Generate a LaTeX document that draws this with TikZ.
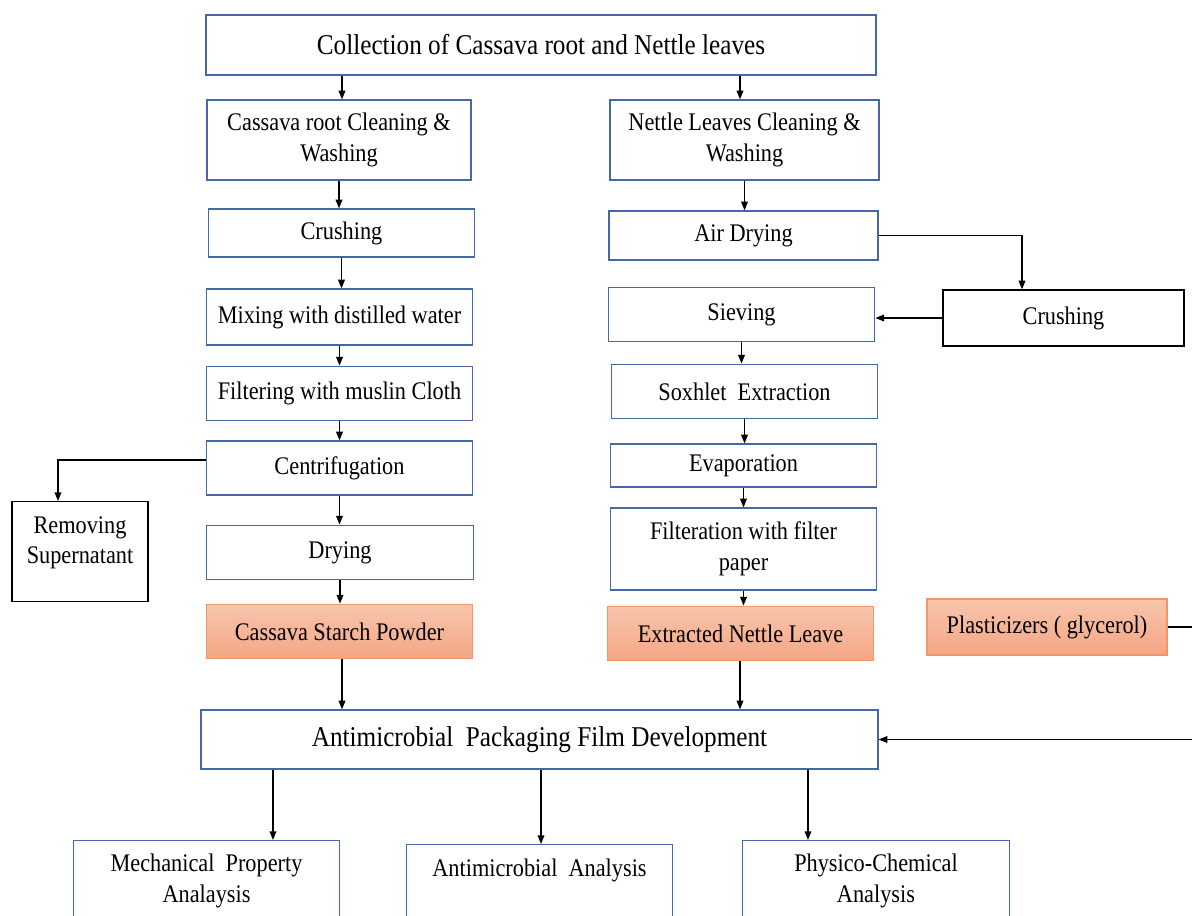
\documentclass[tikz,border=0pt]{standalone}
\usepackage{fontspec}
\setmainfont{Liberation Serif}[FakeStretch=0.88]
\usetikzlibrary{positioning,arrows.meta}
\definecolor{boxblue}{RGB}{68,104,168}
\definecolor{peachtop}{RGB}{248,197,172}
\definecolor{peachbot}{RGB}{244,166,132}
\definecolor{peachline}{RGB}{241,150,100}

\tikzset{
  stage/.style={draw=boxblue, line width=0.9pt, minimum width=200pt, minimum height=41pt,
    align=center, inner sep=3pt, font=\fontsize{19}{23}\selectfont},
  side/.style={stage, draw=black},
  product/.style={stage, draw=peachline, top color=peachtop, bottom color=peachbot},
  headline/.style={stage, font=\fontsize{21.5}{26}\selectfont},
  analysis/.style={stage, anchor=north, text depth=60pt, inner ysep=10pt},
  arr/.style={-{Triangle[length=6.5pt,width=5pt]}, line width=1pt},
}

\begin{document}
\begin{tikzpicture}[x=0.75pt, y=-0.75pt]
   \clip (0,0) rectangle (1192,915);
   % top
   \node[headline, minimum width=502.5pt, minimum height=45pt] (coll) at (541,45) {Collection of Cassava root and Nettle leaves};
   % cassava side
   \node[stage, minimum width=198pt, minimum height=60pt] (cclean) at (339,140) {Cassava root Cleaning \&\\Washing};
   \node[stage, minimum height=36pt] (ccrush) at (341.5,233) {Crushing};
   \node[stage, minimum height=42pt] (cmix) at (339.5,317) {Mixing with distilled water};
   \node[stage] (cfilt) at (339.5,393.5) {Filtering with muslin Cloth};
   \node[stage, minimum height=40.5pt] (centr) at (339.5,468) {Centrifugation};
   \node[side, minimum width=102pt, minimum height=75pt, anchor=north, text depth=17pt, inner ysep=11pt] (remov) at (80,501) {Removing\\Supernatant};
   \node[stage] (cdry) at (340,552.5) {Drying};
   \node[product] (starch) at (339.5,631.5) {Cassava Starch Powder};
   % nettle side
   \node[stage, minimum width=201.75pt, minimum height=60pt] (nclean) at (744.5,140) {Nettle Leaves Cleaning \&\\Washing};
   \node[stage, minimum width=201.75pt, minimum height=36.75pt] (nair) at (743.5,235.5) {Air Drying};
   \node[side, minimum width=180.75pt, minimum height=42pt] (ncrush) at (1063.5,318) {Crushing};
   \node[stage] (nsieve) at (741.5,314.5) {Sieving};
   \node[stage] (nsox) at (744.5,391.5) {Soxhlet\ \ Extraction};
   \node[stage, minimum height=32.25pt] (nevap) at (743.5,465.5) {Evaporation};
   \node[stage, minimum height=61.5pt] (nfilt) at (743.5,549) {Filteration with filter\\paper};
   \node[product] (nettle) at (740.5,633.5) {Extracted Nettle Leave};
   \node[product, minimum width=180pt, minimum height=42pt] (plast) at (1047,627) {Plasticizers ( glycerol)};
   % film and analyses
   \node[headline, minimum width=507.75pt, minimum height=44.25pt] (film) at (539.5,739.5) {Antimicrobial\ \ Packaging Film Development};
   \node[analysis] (mech) at (206.5,840) {Mechanical\ \ Property\\Analaysis};
   \node[analysis, inner ysep=11pt] (amic) at (539.5,844) {Antimicrobial\ \ Analysis};
   \node[analysis] (phys) at (876,840) {Physico-Chemical\\Analysis};

   \coordinate (ka) at (342,0);
   \coordinate (kb) at (740,0);
   \coordinate (kc) at (1022,0);
   \coordinate (kd) at (58,0);
   \coordinate (ke) at (1215,627);
   \coordinate (xm) at (273,0);
   \coordinate (xa) at (541,0);
   \coordinate (xp) at (808,0);

   \draw[arr] (coll.south -| ka) -- (cclean.north -| ka);
   \draw[arr] (coll.south -| kb) -- (nclean.north -| kb);
   \foreach \a/\b in {cclean/ccrush, ccrush/cmix, cmix/cfilt, cfilt/centr, centr/cdry, cdry/starch,
                      nclean/nair, nsieve/nsox, nsox/nevap, nevap/nfilt, nfilt/nettle}
     \draw[arr] (\a.south) -- (\a.south |- \b.north);
   \draw[arr] (starch.south -| ka) -- (film.north -| ka);
   \draw[arr] (nettle.south -| kb) -- (film.north -| kb);
   \draw[arr] (nair.east) -| (ncrush.north -| kc);
   \draw[arr] (ncrush.west) -- (nsieve.east |- ncrush.west);
   \draw[arr] (centr.west |- 0,460) -| (remov.north -| kd);
   \draw[arr] (plast.east) -- (ke) |- (film.east);
   \draw[arr] (film.south -| xm) -- (mech.north -| xm);
   \draw[arr] (film.south -| xa) -- (amic.north -| xa);
   \draw[arr] (film.south -| xp) -- (phys.north -| xp);
\end{tikzpicture}
\end{document}
